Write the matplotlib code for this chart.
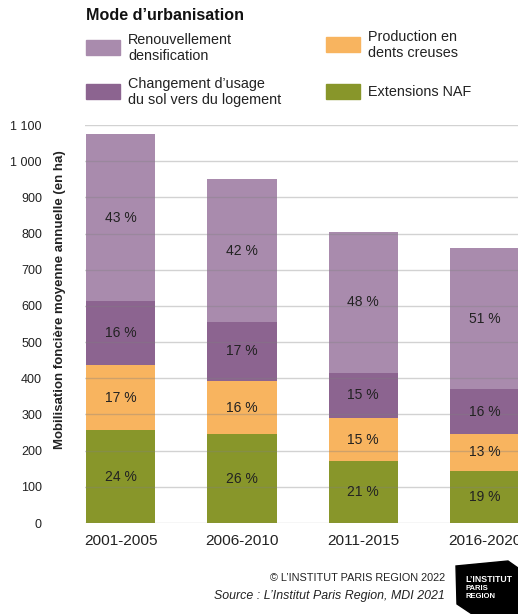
import matplotlib.pyplot as plt
import numpy as np
from matplotlib.patches import Rectangle, Polygon

plt.rcParams["font.family"] = ["Liberation Sans Narrow", "Liberation Sans", "DejaVu Sans"]

periodes = ["2001-2005", "2006-2010", "2011-2015", "2016-2020"]
extensions = [256, 245, 170, 145]
dents_creuses = [181, 148, 121, 102]
changement = [176, 162, 124, 122]
renouvellement = [461, 395, 389, 390]
yticks = [0, 100, 200, 300, 400, 500, 600, 700, 800, 900, 1000, 1100]
ytick_labels = ["0", "100", "200", "300", "400", "500", "600", "700", "800", "900", "1 000", "1 100"]

series = [extensions, dents_creuses, changement, renouvellement]
couleurs = ["#88962a", "#f8b45f", "#8c6490", "#a98bad"]

W, H = 518, 614
fig = plt.figure(figsize=(W / 100, H / 100), dpi=100)

def fx(px):
    return px / W

def fy(py):
    return 1 - py / H

# axes: left edge at 85px, zero line at 523px, 1100 at 125px
ax = fig.add_axes([fx(85), fy(523), fx(W - 85), (523 - 125) / H])

x = np.arange(len(periodes))
totaux = np.sum(series, axis=0)
bas = np.zeros(len(periodes))
for vals, c in zip(series, couleurs):
    vals = np.array(vals)
    ax.bar(x, vals, bottom=bas, width=0.57, color=c, zorder=2)
    for xi, b, v, t in zip(x, bas, vals, totaux):
        ax.text(xi, b + v / 2, "%d %%" % round(v / t * 100), ha="center", va="center",
                fontsize=10, color="#222222", zorder=4)
    bas += vals

for yv in yticks:
    ax.axhline(yv, color="#808080", alpha=0.35, lw=1, zorder=3)

ax.set_xlim(-0.294, -0.294 + (W - 85) / 121.3)
ax.set_ylim(0, 1100)
ax.set_yticks(yticks)
ax.set_yticklabels(ytick_labels, fontsize=9, color="#222222")
ax.set_xticks(x)
ax.set_xticklabels(periodes, fontsize=11.1, color="#222222")
ax.tick_params(length=0)
ax.tick_params(axis="y", pad=31)
ax.tick_params(axis="x", pad=8)
for s in ax.spines.values():
    s.set_visible(False)

fig.text(fx(60), fy(300), "Mobilisation foncière moyenne annuelle (en ha)", rotation=90,
         ha="center", va="center", fontsize=9.5, fontweight="bold", color="#222222")

# legend
fig.text(fx(86), fy(16), "Mode d\u2019urbanisation", fontsize=11.6, fontweight="bold",
         ha="left", va="center", color="#111111")
legende = [
    ("Renouvellement\ndensification", couleurs[3], 86, 40),
    ("Production en\ndents creuses", couleurs[1], 326, 37),
    ("Changement d\u2019usage\ndu sol vers du logement", couleurs[2], 86, 84),
    ("Extensions NAF", couleurs[0], 326, 84),
]
for lab, c, px, py in legende:
    fig.patches.append(Rectangle((fx(px), fy(py + 15)), fx(34), 15 / H, color=c,
                                 transform=fig.transFigure, figure=fig))
    fig.text(fx(px + 42), fy(py + 8), lab, fontsize=10.4, ha="left", va="center",
             linespacing=1.2, color="#222222")

# footer
fig.text(fx(445), fy(578), "© L\u2019INSTITUT PARIS REGION 2022", fontsize=7.8,
         ha="right", va="center", color="#222222")
fig.text(fx(445), fy(596), "Source : L\u2019Institut Paris Region, MDI 2021", fontsize=8.9,
         style="italic", ha="right", va="center", color="#222222")

logo = [(456, 566), (508, 561), (518, 568), (518, 614), (472, 614), (457, 604)]
fig.patches.append(Polygon([(fx(a), fy(b)) for a, b in logo], closed=True, color="black",
                           transform=fig.transFigure, figure=fig))
fig.text(fx(465), fy(579), "L\u2019INSTITUT", fontsize=6.3, fontweight="bold", color="white",
         ha="left", va="center")
fig.text(fx(465), fy(589), "PARIS", fontsize=5.5, fontweight="bold", color="white",
         ha="left", va="center")
fig.text(fx(465), fy(597), "REGION", fontsize=5.5, fontweight="bold", color="white",
         ha="left", va="center")

fig.savefig("out.png", dpi=100)
